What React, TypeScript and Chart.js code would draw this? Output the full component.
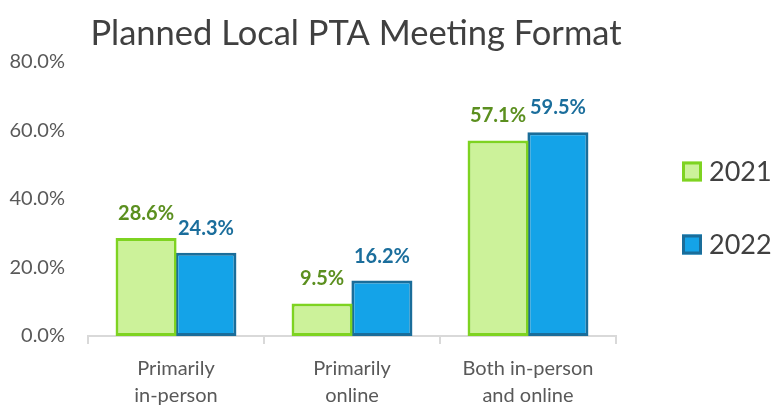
import React, { useEffect, useRef } from "react";
import { Chart, registerables } from "chart.js";

Chart.register(...registerables);

const categories: string[][] = [
  ["Primarily", "in-person"],
  ["Primarily", "online"],
  ["Both in-person", "and online"],
];
const series2021: number[] = [28.6, 9.5, 57.1];
const series2022: number[] = [24.3, 16.2, 59.5];
const seriesNames: string[] = ["2021", "2022"];
const titleText = "Planned Local PTA Meeting Format";
const yMax = 80;
const yStep = 20;

const FONT = "Lato, 'Open Sans', sans-serif";
const fills = ["#ccf29a", "#14a3e8"];
const borders = ["#7ed321", "#1a6d9a"];
const labelColors = ["#5b8f1f", "#1b6e9c"];

const customPlugin = {
  id: "custom",
  afterDatasetsDraw(chart: any) {
    const ctx = chart.ctx;
    ctx.save();
    // data labels
    chart.data.datasets.forEach((ds: any, di: number) => {
      const meta = chart.getDatasetMeta(di);
      meta.data.forEach((el: any, i: number) => {
        ctx.font = `bold 20px ${FONT}`;
        ctx.fillStyle = labelColors[di];
        ctx.textAlign = "center";
        ctx.textBaseline = "alphabetic";
        ctx.fillText(ds.data[i].toFixed(1) + "%", el.x, el.y - 18);
      });
    });
    // title
    ctx.font = `34.5px ${FONT}`;
    ctx.fillStyle = "#404040";
    ctx.textAlign = "center";
    ctx.textBaseline = "alphabetic";
    ctx.fillText(titleText, 356, 45);
    // legend
    const ca = chart.chartArea;
    const mid = (ca.top + ca.bottom) / 2 + 9;
    seriesNames.forEach((name, i) => {
      const cy = mid + (i === 0 ? -36.5 : 36.5);
      const bx = ca.right + 66;
      ctx.fillStyle = fills[i];
      ctx.fillRect(bx, cy - 10, 20, 20);
      ctx.strokeStyle = borders[i];
      ctx.lineWidth = 3;
      ctx.strokeRect(bx + 1.5, cy - 8.5, 17, 17);
      ctx.font = `27px ${FONT}`;
      ctx.fillStyle = "#404040";
      ctx.textAlign = "left";
      ctx.textBaseline = "middle";
      ctx.fillText(name, bx + 27, cy + 1);
    });
    ctx.restore();
  },
};

export default function App() {
  const ref = useRef<HTMLCanvasElement | null>(null);
  useEffect(() => {
    document.body.style.margin = "0";
    const chart = new Chart(ref.current as HTMLCanvasElement, {
      type: "bar",
      data: {
        labels: categories,
        datasets: [
          {
            label: seriesNames[0],
            data: series2021,
            backgroundColor: fills[0],
            borderColor: borders[0],
            borderWidth: 3,
            borderSkipped: false,
            categoryPercentage: 0.68,
            barPercentage: 1.02,
          },
          {
            label: seriesNames[1],
            data: series2022,
            backgroundColor: fills[1],
            borderColor: borders[1],
            borderWidth: 3,
            borderSkipped: false,
            categoryPercentage: 0.68,
            barPercentage: 1.02,
          },
        ],
      },
      plugins: [customPlugin],
      options: {
        animation: false,
        responsive: false,
        maintainAspectRatio: false,
        layout: { padding: { top: 62, right: 157, left: 0, bottom: 0 } },
        plugins: {
          legend: { display: false },
          title: { display: false },
          tooltip: { enabled: false },
        },
        scales: {
          x: {
            grid: {
              display: true,
              drawOnChartArea: false,
              drawTicks: true,
              tickLength: 8,
              offset: true,
              color: "#d9d9d9",
              lineWidth: 2,
            },
            border: { display: true, color: "#d9d9d9", width: 2 },
            ticks: {
              color: "#595959",
              font: { family: FONT, size: 20, lineHeight: 1.35 },
              padding: 11,
              maxRotation: 0,
              autoSkip: false,
            },
            afterFit: (s: any) => {
              s.height = 75;
            },
          },
          y: {
            min: 0,
            max: yMax,
            grid: { display: false, drawTicks: false },
            border: { display: false },
            ticks: {
              stepSize: yStep,
              color: "#595959",
              font: { family: FONT, size: 20 },
              padding: 23,
              callback: (v: any) => Number(v).toFixed(1) + "%",
            },
            afterFit: (s: any) => {
              s.width = 88;
            },
          },
        },
      },
    });
    return () => chart.destroy();
  }, []);
  return (
    <div style={{ width: 773, height: 411, position: "relative" }}>
      <canvas ref={ref} width={773} height={411} />
    </div>
  );
}
